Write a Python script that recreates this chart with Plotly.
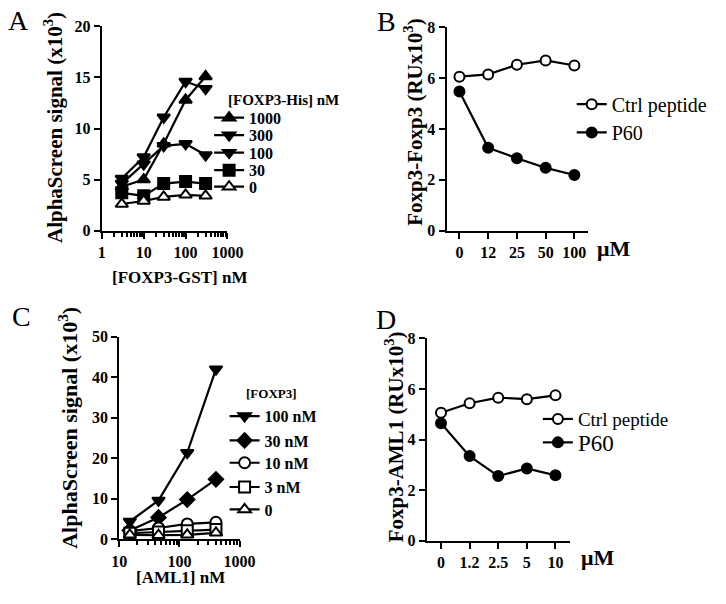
import plotly.graph_objects as go

W, H = 726, 604


def fx(px):
    return px / W


def fy(py):
    return 1 - py / H


# ---------------- data ----------------
# Panel A
a_x = [3, 10, 30, 100, 300]
a_1000 = [4.3, 5.0, 8.5, 12.8, 15.1]
a_300 = [5.1, 7.2, 11.1, 14.6, 13.9]
a_100 = [4.6, 6.5, 8.3, 8.5, 7.4]
a_30 = [3.7, 3.4, 4.6, 4.8, 4.6]
a_0 = [2.6, 2.9, 3.3, 3.5, 3.4]
a_names = ["1000", "300", "100", "30", "0"]

# Panel B
b_cats = ["0", "12", "25", "50", "100"]
b_ctrl = [6.06, 6.15, 6.53, 6.70, 6.50]
b_p60 = [5.48, 3.26, 2.85, 2.47, 2.19]

# Panel C
c_x = [15, 45, 135, 405]
c_100 = [4.4, 9.6, 21.4, 42.0]
c_30 = [2.2, 5.4, 9.8, 14.8]
c_10 = [2.0, 2.8, 3.8, 4.2]
c_3 = [1.5, 1.8, 2.1, 2.4]
c_0 = [1.1, 1.0, 1.1, 1.6]
c_names = ["100 nM", "30 nM", "10 nM", "3 nM", "0"]

# Panel D
d_cats = ["0", "1.2", "2.5", "5", "10"]
d_ctrl = [5.06, 5.44, 5.66, 5.60, 5.75]
d_p60 = [4.65, 3.35, 2.56, 2.86, 2.59]

# ---------------- styling ----------------
SERIF = "Liberation Serif"
BLACK = "black"
LW = 2.2
tickfont = dict(family=SERIF, size=16, color=BLACK, weight="bold")

fig = go.Figure()

leg_count = [0]


def add(x, y, name, symbol, filled, size, xa, ya, leg_x, leg_y, font_size=15, bold=True):
    leg_count[0] += 1
    n = leg_count[0]
    key = "legend" if n == 1 else f"legend{n}"
    fig.add_trace(go.Scatter(
        x=x, y=y, name=name, mode="lines+markers",
        xaxis=xa, yaxis=ya, legend=key, showlegend=True,
        line=dict(color=BLACK, width=LW),
        marker=dict(symbol=symbol, size=size,
                    color=BLACK if filled else "white",
                    line=dict(color=BLACK, width=2)),
        cliponaxis=False,
    ))
    fig.layout[key] = dict(
        x=fx(leg_x), y=fy(leg_y), xanchor="left", yanchor="middle",
        bgcolor="rgba(0,0,0,0)", borderwidth=0, itemwidth=30,
        font=dict(family=SERIF, size=font_size, color=BLACK,
                  weight="bold" if bold else "normal"),
        tracegroupgap=0,
    )


# Panel A traces
a_vals = [a_1000, a_300, a_100, a_30, a_0]
a_sym = [("triangle-up", True), ("triangle-down", True), ("triangle-down", True),
         ("square", True), ("triangle-up", False)]
a_leg_y = [113, 131, 149, 167, 184]
for vals, nm, (sym, fill), ly in zip(a_vals, a_names, a_sym, a_leg_y):
    add(a_x, vals, nm, sym, fill, 11, "x", "y", 208, ly, font_size=16)

# Panel B traces
add(b_cats, b_ctrl, "Ctrl peptide", "circle", False, 10, "x2", "y2", 583, 99, font_size=20, bold=False)
add(b_cats, b_p60, "P60", "circle", True, 10, "x2", "y2", 583, 128, font_size=20, bold=False)

# Panel C traces
c_vals = [c_100, c_30, c_10, c_3, c_0]
c_sym = [("triangle-down", True), ("diamond", True), ("circle", False),
         ("square", False), ("triangle-up", False)]
c_leg_y = [420, 445, 468, 493, 516]
for vals, nm, (sym, fill), ly in zip(c_vals, c_names, c_sym, c_leg_y):
    add(c_x, vals, nm, sym, fill, 11, "x3", "y3", 224, ly, font_size=16)

# Panel D traces
add(d_cats, d_ctrl, "Ctrl peptide", "circle", False, 10, "x4", "y4", 548, 423, font_size=19, bold=False)
add(d_cats, d_p60, "P60", "circle", True, 10, "x4", "y4", 548, 447, font_size=23, bold=False)

# ---------------- axes ----------------
common_axis = dict(showline=True, linecolor=BLACK, linewidth=2, showgrid=False,
                   zeroline=False, ticks="outside", ticklen=6, tickwidth=2,
                   tickcolor=BLACK, tickfont=tickfont, mirror=False)

fig.update_layout(
    xaxis=dict(common_axis, type="log", range=[0, 3], dtick=1, anchor="y",
               domain=[fx(97), fx(227)],
               minor=dict(ticks="outside", ticklen=4, tickwidth=1.5, tickcolor=BLACK,
                          dtick="D1", showgrid=False)),
    yaxis=dict(common_axis, range=[0, 20], dtick=5, anchor="x",
               domain=[fy(229), fy(19)]),
    xaxis2=dict(common_axis, type="category", range=[-0.45, 4.48], anchor="y2",
                domain=[fx(453.5), fx(600)]),
    yaxis2=dict(common_axis, range=[0, 8], dtick=2, anchor="x2",
                domain=[fy(229), fy(20)]),
    xaxis3=dict(common_axis, type="log", range=[1, 3], dtick=1, anchor="y3",
                domain=[fx(115), fx(239.5)],
                minor=dict(ticks="outside", ticklen=4, tickwidth=1.5, tickcolor=BLACK,
                           dtick="D1", showgrid=False)),
    yaxis3=dict(common_axis, range=[0, 50], dtick=10, anchor="x3",
                domain=[fy(546.7), fy(338.3)]),
    xaxis4=dict(common_axis, type="category", range=[-0.5, 4.5], anchor="y4",
                domain=[fx(433), fx(581)]),
    yaxis4=dict(common_axis, range=[0, 8], dtick=2, anchor="x4",
                domain=[fy(548.3), fy(340)]),
)

# ---------------- text ----------------
ann = []


def text(t, x, y, size, bold=True, angle=0, xanchor="center"):
    ann.append(dict(text=t, x=fx(x), y=fy(y), xref="paper", yref="paper",
                    showarrow=False, textangle=angle, xanchor=xanchor, yanchor="middle",
                    font=dict(family=SERIF, size=size, color=BLACK,
                              weight="bold" if bold else "normal")))


# panel letters
text("A", 11, 13, 28, bold=False)
text("B", 391, 14, 28, bold=False)
text("C", 14, 317, 28, bold=False)
text("D", 391, 321, 28, bold=False)

# y titles
text("AlphaScreen signal (x10<sup>3</sup>)", 47, 123, 21, angle=-90)
text("Foxp3-Foxp3 (RUx10<sup>3</sup>)", 420, 118, 21, angle=-90)
text("AlphaScreen signal (x10<sup>3</sup>)", 62, 432, 22, angle=-90)
text("Foxp3-AML1 (RUx10<sup>3</sup>)", 400, 441, 21, angle=-90)

# x titles
text("[FOXP3-GST] nM", 178, 277, 17)
text("[AML1] nM", 178, 586, 17)
text("μM", 626, 247, 22)
text("μM", 610, 565, 22)

# legend titles
text("[FOXP3-His] nM", 285, 95, 15)
text("[FOXP3]", 272, 397, 13)

fig.update_layout(
    annotations=ann,
    width=W, height=H,
    margin=dict(l=0, r=0, t=0, b=0),
    paper_bgcolor="white", plot_bgcolor="white",
    showlegend=True,
)

fig.write_html("out.html", config={"displayModeBar": False},
               post_script="document.body.style.margin='0';document.body.style.overflow='hidden';")
